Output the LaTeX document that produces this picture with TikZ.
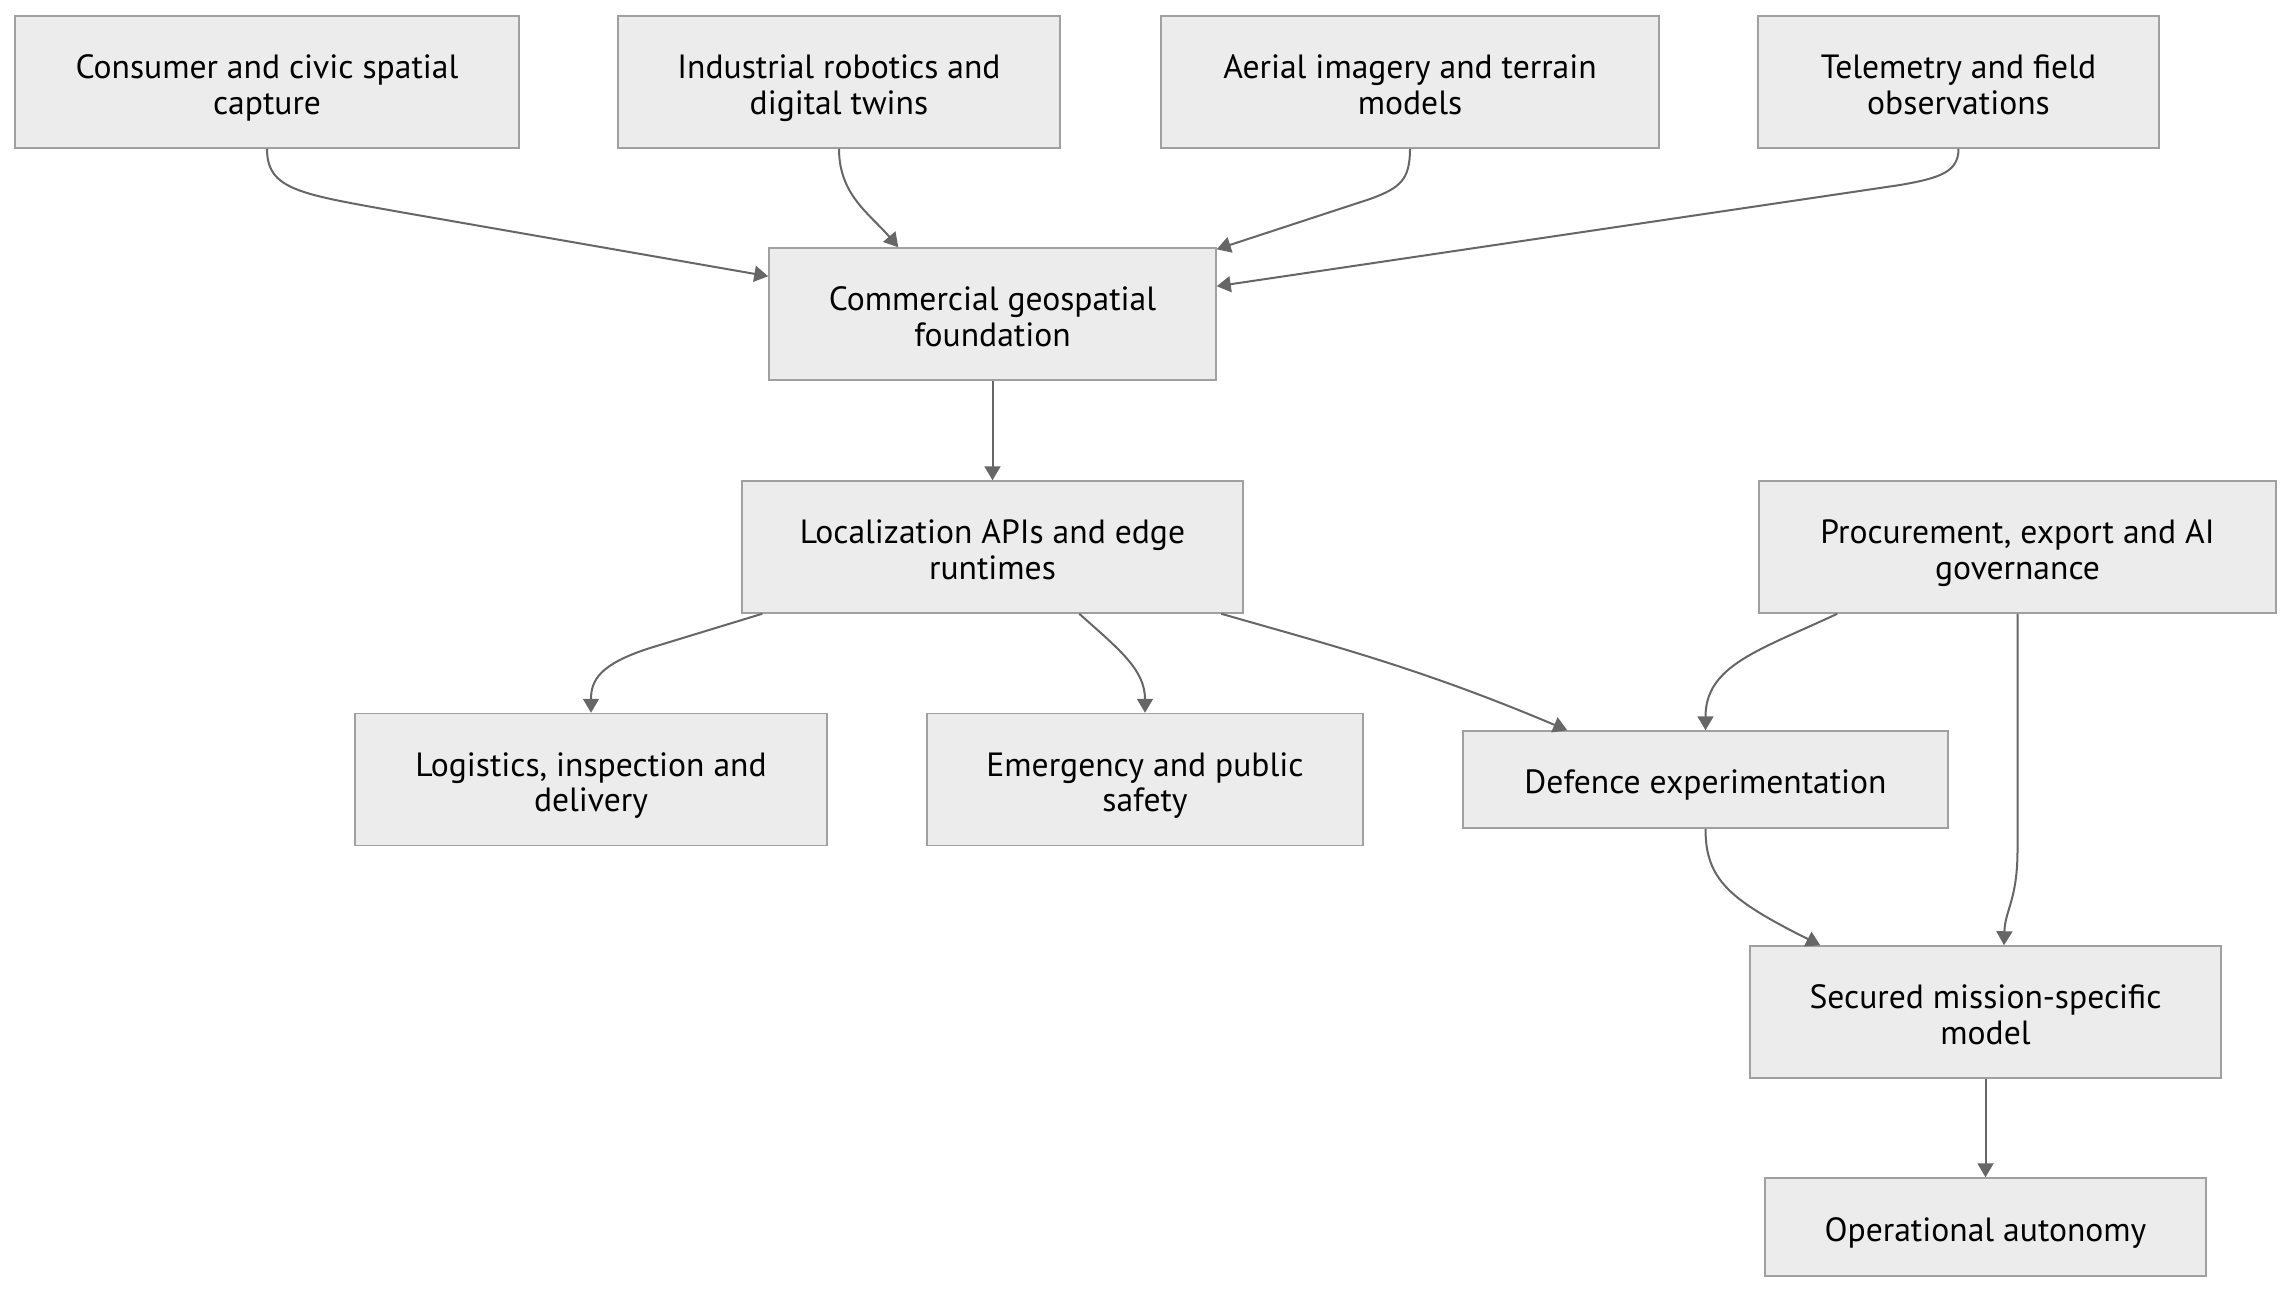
\documentclass[tikz,border=0pt]{standalone}
\usepackage{fontspec}
\setmainfont{PT Sans}
\usetikzlibrary{arrows.meta,calc}
\definecolor{boxfill}{HTML}{ECECEC}
\definecolor{boxline}{HTML}{A0A0A0}
\definecolor{edgecol}{HTML}{666666}
\begin{document}
\begin{tikzpicture}[x=0.5pt,y=-0.5pt,
  box/.style={draw=boxline,fill=boxfill,line width=0.75pt,inner sep=0pt},
  txt/.style={align=center,inner sep=0pt,yshift=-3.7pt,font=\fontsize{16.8}{17.6}\selectfont},
  sz/.style n args={2}{minimum width=#1pt,minimum height=#2pt},
  link/.style={draw=edgecol,line width=1pt,-{Triangle[length=7pt,width=8pt]}}]
\useasboundingbox (0,0) rectangle (2292,1292);
\node[box,sz={252}{66},label={[txt]center:{\strut Consumer and civic spatial\\\strut capture}}]   (n1)  at (267,82) {};
\node[box,sz={221}{66},label={[txt]center:{\strut Industrial robotics and\\\strut digital twins}}]   (n2)  at (839,82) {};
\node[box,sz={249}{66},label={[txt]center:{\strut Aerial imagery and terrain\\\strut models}}]   (n3)  at (1410,82) {};
\node[box,sz={200.5}{66},label={[txt]center:{\strut Telemetry and field\\\strut observations}}] (n4)  at (1958.5,82) {};
\node[box,sz={223.5}{66},label={[txt]center:{\strut Commercial geospatial\\\strut foundation}}] (n5)  at (992.5,314) {};
\node[box,sz={250.5}{66},label={[txt]center:{\strut Localization APIs and edge\\\strut runtimes}}] (n6)  at (992.5,547) {};
\node[box,sz={258.5}{66},label={[txt]center:{\strut Procurement, export and AI\\\strut governance}}] (n7)  at (2017.5,547) {};
\node[box,sz={236}{66},label={[txt]center:{\strut Logistics, inspection and\\\strut delivery}}]   (n8)  at (591,779.5) {};
\node[box,sz={218}{66},label={[txt]center:{\strut Emergency and public\\\strut safety}}]   (n9)  at (1145,779.5) {};
\node[box,sz={242.5}{48.5},label={[txt]center:{\strut Defence experimentation}}] (n10) at (1705.5,779.5) {};
\node[box,sz={235.5}{66},label={[txt]center:{\strut Secured mission-specific\\\strut model}}] (n11) at (1985.5,1012) {};
\node[box,sz={220.5}{49},label={[txt]center:{\strut Operational autonomy}}] (n12) at (1985.5,1227) {};

\draw[link] (n1.south) .. controls (267,190) and (300,194) .. (400,212) -- ($(n5.north west)+(0,29)$);
\draw[link] (n2.south) .. controls (839,195) and (870,214) .. ($(n5.north west)+(130,0)$);
\draw[link] (n3.south) .. controls (1410,180) and (1400,188) .. (1370,199) -- ($(n5.north east)+(0,2)$);
\draw[link] (n4.south) .. controls (1958.5,172) and (1940,178) .. (1900,185) -- ($(n5.north east)+(0,39)$);
\draw[link] (n5.south) -- (n6.north);
\draw[link] ($(n6.south west)+(21,0)$) -- (650,648) .. controls (600,664) and (591,680) .. (n8.north);
\draw[link] ($(n6.south west)+(338,0)$) .. controls (1120,650) and (1145,670) .. (n9.north);
\draw[link] ($(n6.south west)+(480,0)$) .. controls (1330,645) and (1420,668) .. ($(n10.north west)+(105,0)$);
\draw[link] ($(n7.south west)+(79,0)$) .. controls (1760,650) and (1705.5,665) .. (n10.north);
\draw[link] (n7.south) -- (2017.5,850) .. controls (2017.5,900) and (2005,910) .. ($(n11.north)+(18.5,0)$);
\draw[link] (n10.south) .. controls (1705.5,880) and (1730,900) .. ($(n11.north west)+(71,0)$);
\draw[link] (n11.south) -- (n12.north);
\end{tikzpicture}
\end{document}
